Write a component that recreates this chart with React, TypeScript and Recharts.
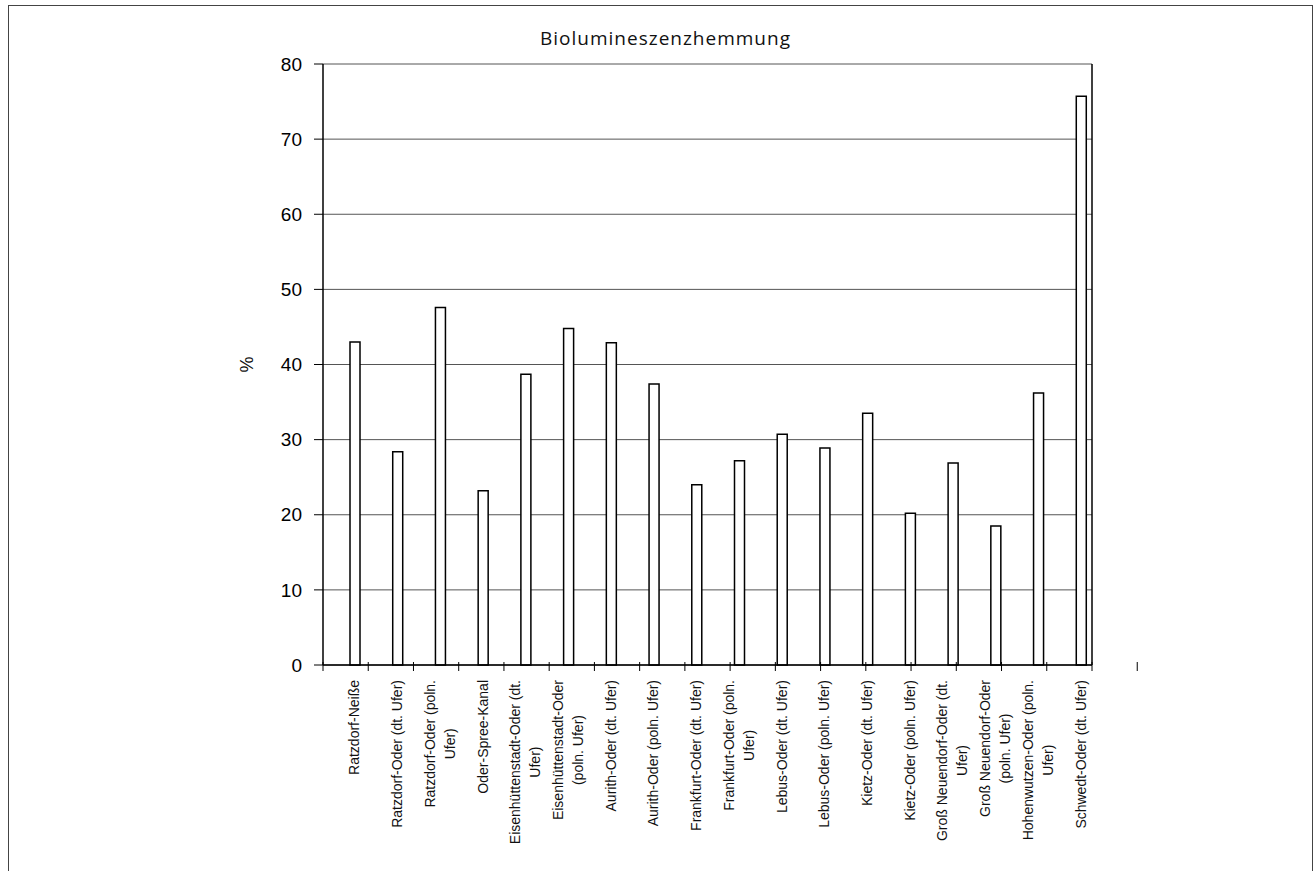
import React from 'react';
import { BarChart, Bar, XAxis, YAxis, CartesianGrid } from 'recharts';

const title = 'Biolumineszenzhemmung';
const yLabel = '%';

const categoryLines: string[][] = [
  ['Ratzdorf-Neiße'],
  ['Ratzdorf-Oder (dt. Ufer)'],
  ['Ratzdorf-Oder (poln.', 'Ufer)'],
  ['Oder-Spree-Kanal'],
  ['Eisenhüttenstadt-Oder (dt.', 'Ufer)'],
  ['Eisenhüttenstadt-Oder', '(poln. Ufer)'],
  ['Aurith-Oder (dt. Ufer)'],
  ['Aurith-Oder (poln. Ufer)'],
  ['Frankfurt-Oder (dt. Ufer)'],
  ['Frankfurt-Oder (poln.', 'Ufer)'],
  ['Lebus-Oder (dt. Ufer)'],
  ['Lebus-Oder (poln. Ufer)'],
  ['Kietz-Oder (dt. Ufer)'],
  ['Kietz-Oder (poln. Ufer)'],
  ['Groß Neuendorf-Oder (dt.', 'Ufer)'],
  ['Groß Neuendorf-Oder', '(poln. Ufer)'],
  ['Hohenwutzen-Oder (poln.', 'Ufer)'],
  ['Schwedt-Oder (dt. Ufer)'],
];

const categories = categoryLines.map((l) => l.join(' '));

const values = [
  43.0, 28.4, 47.6, 23.2, 38.7, 44.8, 42.9, 37.4, 24.0, 27.2, 30.7, 28.9, 33.5, 20.2, 26.9, 18.5, 36.2, 75.7,
];

const yTicks = [0, 10, 20, 30, 40, 50, 60, 70, 80];

const data = categories.map((name, i) => ({ name, value: values[i] }));
const boundaryTicks = Array.from({ length: categories.length + 1 }, (_, i) => i);

const LABEL_FONT = "14px 'Liberation Sans', Arial, sans-serif";
let ctx: CanvasRenderingContext2D | null = null;
function measure(text: string): number {
  if (!ctx) {
    const c = document.createElement('canvas');
    ctx = c.getContext('2d');
  }
  if (!ctx) return text.length * 7;
  ctx.font = LABEL_FONT;
  return ctx.measureText(text).width;
}

const CategoryTick = (props: any) => {
  const { x, y, payload } = props;
  const idx = categories.indexOf(payload.value);
  if (idx < 0) return <g />;
  const lines = categoryLines[idx];
  const widths = lines.map(measure);
  const block = Math.max(...widths);
  const n = lines.length;
  return (
    <g transform={`translate(${x + 10}, ${y}) rotate(-90)`}>
      {lines.map((line, i) => (
        <text
          key={i}
          x={n === 1 ? 0 : -block / 2}
          y={5 + (i - (n - 1) / 2) * 20}
          textAnchor={n === 1 ? 'end' : 'middle'}
          fontFamily="'Liberation Sans', Arial, sans-serif"
          fontSize={14}
          fill="#111"
        >
          {line}
        </text>
      ))}
    </g>
  );
};

// Tick mark drawn at each category boundary, crossing the axis slightly
const BoundaryTick = (props: any) => {
  const { x, y, payload } = props;
  const v = Number(payload?.value);
  if (!(v >= 0 && v <= categories.length)) return <g />;
  return <line x1={x} x2={x} y1={y - 3} y2={y + 6} stroke="#000" strokeWidth={1} />;
};

const YAxisLabel = (props: any) => {
  const { viewBox } = props;
  const cx = viewBox.x - 6;
  const cy = viewBox.y + viewBox.height / 2;
  return (
    <text
      transform={`translate(${cx}, ${cy}) rotate(-90)`}
      textAnchor="middle"
      dominantBaseline="central"
      fontFamily="'Liberation Sans', Arial, sans-serif"
      fontSize={18}
      fill="#111"
    >
      {yLabel}
    </text>
  );
};

export default function App() {
  return (
    <div
      style={{
        position: 'absolute',
        left: 8,
        top: 5,
        width: 1305,
        height: 866,
        border: '1px solid #444',
        borderBottom: 'none',
        boxSizing: 'border-box',
        background: '#fff',
      }}
    >
      <div
        style={{
          position: 'absolute',
          left: 5,
          top: 20,
          width: 1303,
          textAlign: 'center',
          fontFamily: "'Open Sans', 'Noto Sans', sans-serif",
          fontSize: 19,
          lineHeight: '24px',
          letterSpacing: '1px',
          color: '#111',
        }}
      >
        {title}
      </div>
      <BarChart
        width={1303}
        height={865}
        data={data}
        margin={{ top: 58, right: 219, bottom: 6, left: 244 }}
        barSize={10}
        barGap={11}
      >
        <CartesianGrid
          xAxisId="labels"
          yAxisId="left"
          horizontal
          vertical={false}
          stroke="#555"
          strokeWidth={1}
        />
        <XAxis
          xAxisId="axisA"
          type="number"
          domain={[0, categories.length]}
          ticks={boundaryTicks}
          allowDataOverflow
          interval={0}
          minTickGap={0}
          height={1}
          tick={<BoundaryTick />}
          tickSize={0}
          tickMargin={0}
          tickLine={false}
          axisLine={{ stroke: '#000', strokeWidth: 1.5 }}
        />
        <XAxis
          xAxisId="labels"
          dataKey="name"
          type="category"
          height={199}
          interval={0}
          tickLine={false}
          axisLine={false}
          tickSize={6}
          tickMargin={8}
          tick={<CategoryTick />}
        />
        <YAxis
          yAxisId="left"
          width={70}
          domain={[0, 80]}
          ticks={yTicks}
          interval={0}
          tickSize={9}
          tickMargin={12}
          tick={{ fontFamily: "'Liberation Sans', Arial, sans-serif", fontSize: 19, fill: '#000' }}
          tickLine={{ stroke: '#000', strokeWidth: 1 }}
          axisLine={{ stroke: '#000', strokeWidth: 1.5 }}
          label={<YAxisLabel />}
        />
        <YAxis
          yAxisId="right"
          orientation="right"
          width={1}
          domain={[0, 80]}
          tick={false}
          tickLine={false}
          axisLine={{ stroke: '#000', strokeWidth: 1.5 }}
        />
        <Bar
          xAxisId="labels"
          yAxisId="left"
          dataKey="blank"
          fill="none"
          stroke="none"
          isAnimationActive={false}
        />
        <Bar
          xAxisId="labels"
          yAxisId="left"
          dataKey="value"
          fill="#fff"
          stroke="#000"
          strokeWidth={1.5}
          isAnimationActive={false}
        />
      </BarChart>
    </div>
  );
}
